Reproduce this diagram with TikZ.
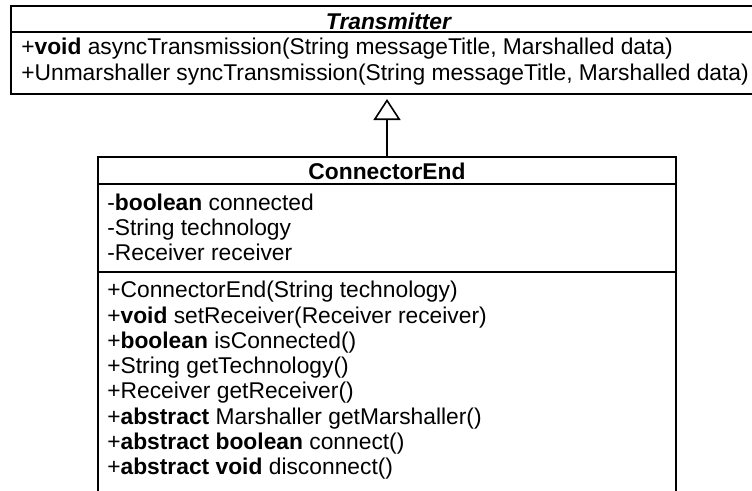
\documentclass[tikz,border=0pt]{standalone}
\usepackage{fontspec}
\setmainfont{Liberation Sans}
\usetikzlibrary{arrows.meta}
\begin{document}
\begin{tikzpicture}[x=1pt,y=-1pt,line width=1.6pt,
  umlbox/.style={draw=black, inner sep=0pt, outer sep=0pt, anchor=north west},
  umltxt/.style={anchor=base west, inner sep=0pt, font=\fontsize{22.8}{25.3}\selectfont},
  umltitle/.style={anchor=base, inner sep=0pt, font=\fontsize{22.8}{25.3}\selectfont\bfseries},
  inherit/.style={-{Triangle[open,length=21pt,width=27pt]}, shorten >=5pt}]
\useasboundingbox (0,0) rectangle (752,490);
\clip (0,0) rectangle (752,490);
% Transmitter
\node[umlbox, minimum width=755pt, minimum height=26pt] (tHead) at (11,6) {};
\node[umlbox, minimum width=755pt, minimum height=62pt] (tBody) at (11,32) {};
\node[umltitle] (tTitle) at (388.5,29.5) {\itshape Transmitter};
\node[umltxt] (t1) at (20.5,54.5) {+\textbf{void} asyncTransmission(String messageTitle, Marshalled data)};
\node[umltxt] (t2) at (20.5,80) {+Unmarshaller syncTransmission(String messageTitle, Marshalled data)};
% ConnectorEnd
\node[umlbox, minimum width=578pt, minimum height=27pt] (ceHead) at (98,157) {};
\node[umlbox, minimum width=578pt, minimum height=88pt] (ceAttr) at (98,184) {};
\node[umlbox, minimum width=578pt, minimum height=240pt] (ceOps) at (98,272) {};
\node[umltitle] (ceTitle) at (387,179) {ConnectorEnd};
\node[umltxt] (a1) at (106.5,210) {-\textbf{boolean} connected};
\node[umltxt] (a2) at (106.5,235.3) {-String technology};
\node[umltxt] (a3) at (106.5,260.6) {-Receiver receiver};
\node[umltxt] (m1) at (106.5,297.7) {+ConnectorEnd(String technology)};
\node[umltxt] (m2) at (106.5,323) {+\textbf{void} setReceiver(Receiver receiver)};
\node[umltxt] (m3) at (106.5,348.3) {+\textbf{boolean} isConnected()};
\node[umltxt] (m4) at (106.5,373.6) {+String getTechnology()};
\node[umltxt] (m5) at (106.5,398.9) {+Receiver getReceiver()};
\node[umltxt] (m6) at (106.5,424.2) {+\textbf{abstract} Marshaller getMarshaller()};
\node[umltxt] (m7) at (106.5,449.5) {+\textbf{abstract boolean} connect()};
\node[umltxt] (m8) at (106.5,474.8) {+\textbf{abstract void} disconnect()};
% generalization
\draw[inherit] (ceHead.north) -- (ceHead.north |- tBody.south);
\end{tikzpicture}
\end{document}
